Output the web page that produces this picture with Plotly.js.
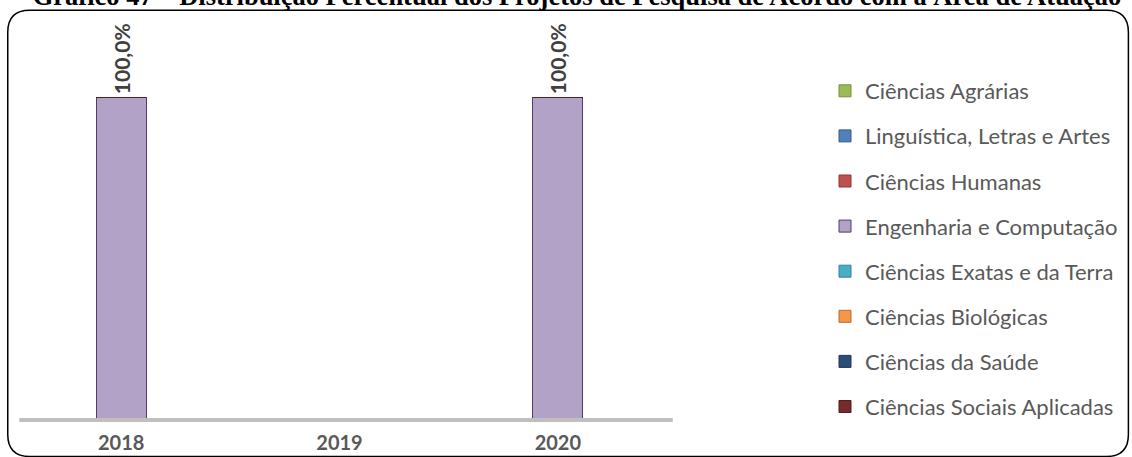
<!DOCTYPE html>
<html><head><meta charset="utf-8">
<script src="https://cdn.plot.ly/plotly-3.0.1.min.js"></script>
<style>html,body{margin:0;padding:0;background:#fff}#chart{width:1132px;height:457px}</style>
</head><body><div id="chart"></div>
<script>
const categories = ['2018', '2019', '2020'];
const seriesNames = ['Ciências Agrárias', 'Linguística, Letras e Artes', 'Ciências Humanas', 'Engenharia e Computação', 'Ciências Exatas e da Terra', 'Ciências Biológicas', 'Ciências da Saúde', 'Ciências Sociais Aplicadas'];
const agrarias = [0, 0, 0];
const linguistica = [0, 0, 0];
const humanas = [0, 0, 0];
const engenharia = [100, 0, 100];
const exatas = [0, 0, 0];
const biologicas = [0, 0, 0];
const saude = [0, 0, 0];
const sociais = [0, 0, 0];
const seriesValues = [agrarias, linguistica, humanas, engenharia, exatas, biologicas, saude, sociais];
const seriesColors = ['#9BBB59', '#4F81BD', '#C0504D', '#B3A2C7', '#4BACC6', '#F79646', '#2C4D75', '#772C2A'];
const lineColors = ['#76923C', '#385D8A', '#8C3836', '#4F3F66', '#31859C', '#B66D31', '#1F3654', '#4F1D1C'];

const W = 1132, H = 457;
const L = 11.75, R = W - 667.25, T = 32.8, B = H - 418;
const pw = W - L - R, ph = H - T - B;
const px = x => (x - L) / pw;
const py = y => (H - B - y) / ph;

const traces = seriesNames.map((name, i) => ({
  type: 'bar',
  name: name,
  x: categories,
  y: seriesValues[i],
  width: 0.229,
  legendgroup: 'g' + i,
  marker: { color: seriesColors[i], line: { color: lineColors[i], width: 1 } },
  text: seriesValues[i].map(v => v > 0 ? v.toFixed(1).replace('.', ',') + '%' : ''),
  textposition: 'outside',
  textangle: -90,
  constraintext: 'none',
  cliponaxis: false,
  textfont: { family: 'Lato, "DejaVu Sans", sans-serif', size: 21, color: '#404040', weight: 'bold' },
  hoverinfo: 'x+y+name'
}));

// rounded frame path in paper coords
const fx0 = 7.5, fx1 = 1129, fy0 = 10, fy1 = 456.5, r = 22;
const P = (x, y) => px(x) + ',' + py(y);
const framePath = 'M ' + P(fx0 + r, fy0) + ' L ' + P(fx1 - r, fy0) +
  ' Q ' + P(fx1, fy0) + ' ' + P(fx1, fy0 + r) +
  ' L ' + P(fx1, fy1 - r) + ' Q ' + P(fx1, fy1) + ' ' + P(fx1 - r, fy1) +
  ' L ' + P(fx0 + r, fy1) + ' Q ' + P(fx0, fy1) + ' ' + P(fx0, fy1 - r) +
  ' L ' + P(fx0, fy0 + r) + ' Q ' + P(fx0, fy0) + ' ' + P(fx0 + r, fy0) + ' Z';

const layout = {
  width: W, height: H,
  margin: { l: L, r: R, t: T, b: B, pad: 0 },
  paper_bgcolor: '#ffffff', plot_bgcolor: 'rgba(0,0,0,0)',
  barmode: 'stack',
  showlegend: true,
  title: {
    text: '<b>Gráfico 47 – Distribuição Percentual dos Projetos de Pesquisa de Acordo com a Área de Atuação</b>',
    font: { family: '"Liberation Serif", "Times New Roman", serif', size: 26.5, color: '#000' },
    x: 577 / W, xanchor: 'center', xref: 'container',
    y: 1 - 5 / H, yanchor: 'bottom', yref: 'container'
  },
  xaxis: {
    type: 'category', showgrid: false, zeroline: false,
    showline: false,
    ticks: '', ticklabelstandoff: 11,
    tickfont: { family: 'Lato, "DejaVu Sans", sans-serif', size: 20, color: '#595959', weight: 'bold' },
    fixedrange: true
  },
  yaxis: {
    range: [0, 120], visible: false, showgrid: false, zeroline: false, fixedrange: true
  },
  legend: {
    xref: 'container', yref: 'container',
    x: 825 / W, xanchor: 'left',
    y: 1 - 70 / H, yanchor: 'top',
    maxheight: 420,
    traceorder: 'grouped', tracegroupgap: 13.5,
    font: { family: 'Lato, "Open Sans", sans-serif', size: 22, color: '#595959' },
    bgcolor: 'rgba(0,0,0,0)'
  },
  shapes: [
    {
      type: 'path', xref: 'paper', yref: 'paper', path: framePath,
      line: { color: '#000', width: 1.5 }, fillcolor: 'rgba(0,0,0,0)', layer: 'below'
    },
    {
      type: 'line', xref: 'paper', yref: 'paper',
      x0: px(19), x1: px(673), y0: py(420), y1: py(420),
      line: { color: '#BFBFBF', width: 4 }, layer: 'below'
    }
  ]
};

Plotly.newPlot('chart', traces, layout, { displayModeBar: false, staticPlot: true });
</script></body></html>
